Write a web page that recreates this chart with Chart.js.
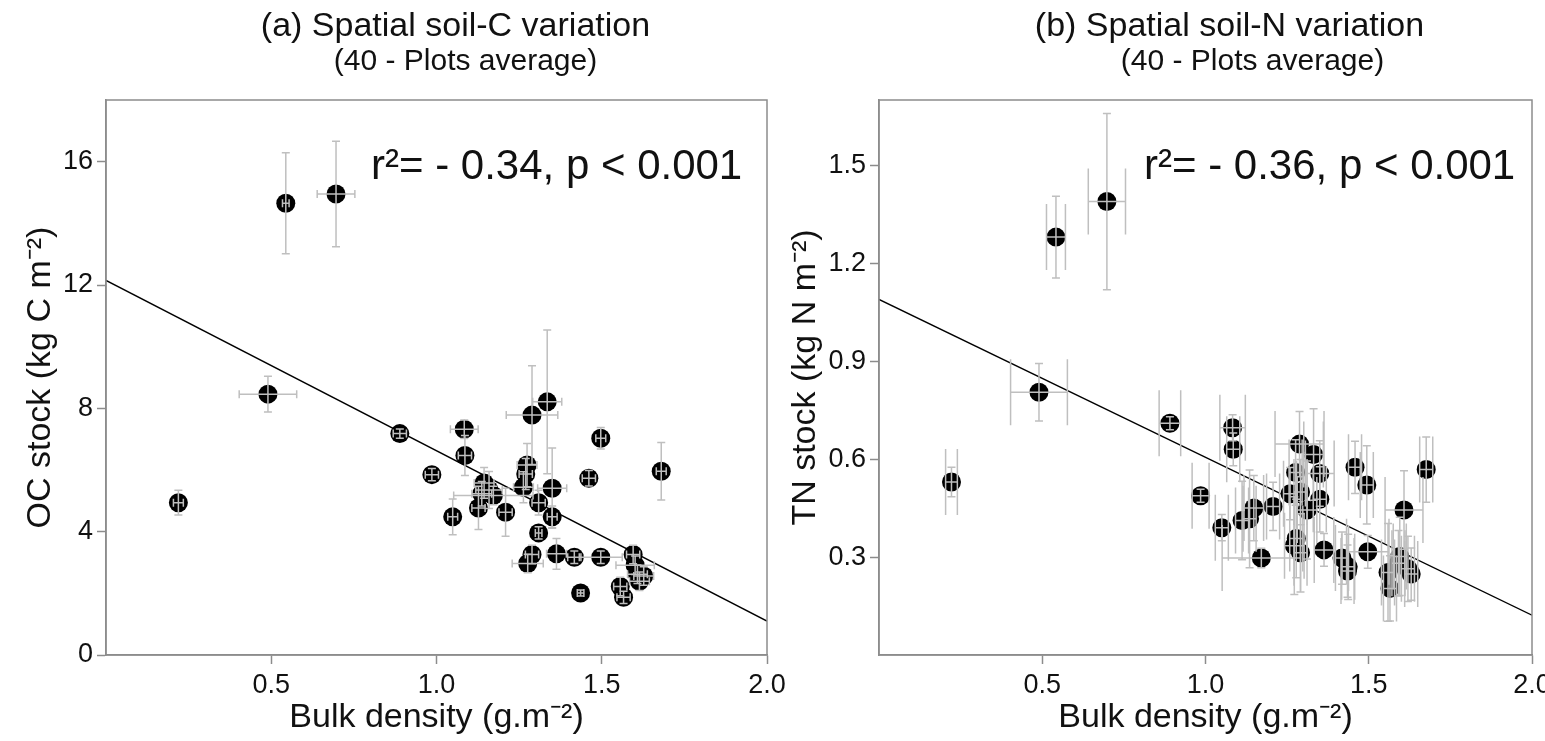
<!DOCTYPE html>
<html lang="en">
<head>
<meta charset="UTF-8">
<title>Spatial soil-C and soil-N variation</title>
<script src="https://cdn.jsdelivr.net/npm/chart.js"></script>
<style>
    body { margin: 0; background: #fff; overflow: hidden; }
    .panel { position: absolute; top: 0; }
    #panelA { left: 0; }
    #panelB { left: 772px; }
</style>
</head>
<body>
<div class="panel" id="panelA"><canvas id="ocChart" width="800" height="741"></canvas></div>
<div class="panel" id="panelB"><canvas id="tnChart" width="800" height="741"></canvas></div>
<script>
// (a) organic carbon stock vs bulk density, 40 plot averages (+/- error)
const ocDensity    = [0.544, 0.696, 0.490, 0.219, 0.889, 1.084, 1.086, 0.986, 1.049, 1.127,
                      1.144, 1.159, 1.172, 1.209, 1.263, 1.274, 1.289, 1.335, 1.350, 1.309,
                      1.350, 1.497, 1.461, 1.680, 1.309, 1.289, 1.276, 1.363, 1.417, 1.497,
                      1.595, 1.601, 1.608, 1.627, 1.436, 1.556, 1.566, 1.614, 1.137, 1.270];
const ocDensityErr = [0.010, 0.057, 0.087, 0.015, 0.020, 0.042, 0.020, 0.020, 0.015, 0.020,
                      0.030, 0.040, 0.120, 0.020, 0.030, 0.030, 0.078, 0.044, 0.044, 0.020,
                      0.015, 0.015, 0.020, 0.015, 0.010, 0.020, 0.047, 0.030, 0.020, 0.065,
                      0.020, 0.058, 0.030, 0.030, 0.010, 0.020, 0.020, 0.030, 0.030, 0.020];
const ocStock      = [14.65, 14.95, 8.46, 4.94, 7.18, 7.32, 6.47, 5.85, 4.48, 4.77,
                      5.58, 5.35, 5.17, 4.63, 5.44, 6.16, 7.78, 8.21, 5.41, 4.94,
                      4.48, 7.03, 5.73, 5.96, 3.96, 3.26, 2.97, 3.28, 3.17, 3.17,
                      3.26, 2.91, 2.62, 2.56, 2.01, 2.22, 1.87, 2.39, 5.23, 5.87];
const ocStockErr   = [1.64, 1.71, 0.58, 0.40, 0.15, 0.30, 0.65, 0.20, 0.58, 0.70,
                      0.50, 0.60, 0.30, 0.78, 0.50, 0.70, 1.60, 2.33, 1.30, 0.40,
                      0.35, 0.35, 0.25, 0.93, 0.20, 0.30, 0.30, 0.50, 0.20, 0.20,
                      0.30, 0.30, 0.30, 0.30, 0.10, 0.30, 0.20, 0.30, 0.40, 0.50];
const ocFitX = [0, 2.0];
const ocFitY = [12.15, 1.1];

// (b) total nitrogen stock vs bulk density
const tnDensity    = [0.542, 0.698, 0.490, 0.222, 0.891, 1.083, 1.085, 0.985, 1.050, 1.135,
                      1.148, 1.207, 1.171, 1.288, 1.331, 1.276, 1.350, 1.259, 1.350, 1.311,
                      1.272, 1.291, 1.363, 1.458, 1.494, 1.676, 1.608, 1.497, 1.418, 1.435,
                      1.595, 1.559, 1.630, 1.565, 1.591, 1.112, 1.278, 1.291, 1.437, 1.620];
const tnDensityErr = [0.029, 0.057, 0.087, 0.018, 0.033, 0.039, 0.020, 0.026, 0.020, 0.020,
                      0.030, 0.020, 0.120, 0.075, 0.030, 0.020, 0.044, 0.020, 0.020, 0.030,
                      0.030, 0.020, 0.030, 0.020, 0.020, 0.020, 0.058, 0.065, 0.020, 0.020,
                      0.020, 0.020, 0.020, 0.020, 0.020, 0.020, 0.020, 0.020, 0.020, 0.020];
const tnStock      = [1.280, 1.389, 0.805, 0.530, 0.710, 0.696, 0.630, 0.488, 0.390, 0.417,
                      0.450, 0.455, 0.297, 0.646, 0.614, 0.559, 0.556, 0.494, 0.477, 0.444,
                      0.335, 0.313, 0.322, 0.575, 0.521, 0.568, 0.444, 0.316, 0.297, 0.257,
                      0.302, 0.253, 0.248, 0.204, 0.281, 0.412, 0.357, 0.499, 0.270, 0.264];
const tnStockErr   = [0.125, 0.270, 0.088, 0.045, 0.020, 0.040, 0.050, 0.020, 0.040, 0.150,
                      0.100, 0.074, 0.030, 0.100, 0.140, 0.100, 0.100, 0.080, 0.100, 0.150,
                      0.150, 0.120, 0.050, 0.080, 0.120, 0.100, 0.120, 0.050, 0.080, 0.080,
                      0.120, 0.150, 0.080, 0.100, 0.100, 0.120, 0.120, 0.100, 0.100, 0.100];
const tnFitX = [0, 2.0];
const tnFitY = [1.089, 0.122];

// tick labels
const densityTicks = [0.5, 1.0, 1.5, 2.0];
const ocTicks = [0, 4, 8, 12, 16];
const tnTicks = [0.3, 0.6, 0.9, 1.2, 1.5];

const FONT = "'Liberation Sans', Arial, sans-serif";
const AXIS_GREY = '#8c8c8c';

// frame, error bars, titles and the r2 note
const panelDecor = {
    id: 'panelDecor',
    afterDatasetsDraw(chart, args, o) {
        const { ctx, chartArea: a, scales: { x, y } } = chart;
        ctx.save();
        ctx.strokeStyle = '#bfbfbf';
        ctx.lineWidth = 1.5;
        chart.data.datasets[0].data.forEach(p => {
            const px = x.getPixelForValue(p.x), py = y.getPixelForValue(p.y);
            const y1 = y.getPixelForValue(p.y + p.ye), y2 = y.getPixelForValue(p.y - p.ye);
            const x1 = x.getPixelForValue(p.x - p.xe), x2 = x.getPixelForValue(p.x + p.xe);
            ctx.beginPath();
            ctx.moveTo(px, y1); ctx.lineTo(px, y2);
            ctx.moveTo(px - o.capY, y1); ctx.lineTo(px + o.capY, y1);
            ctx.moveTo(px - o.capY, y2); ctx.lineTo(px + o.capY, y2);
            ctx.moveTo(x1, py); ctx.lineTo(x2, py);
            ctx.moveTo(x1, py - o.capX); ctx.lineTo(x1, py + o.capX);
            ctx.moveTo(x2, py - o.capX); ctx.lineTo(x2, py + o.capX);
            ctx.stroke();
        });
        ctx.strokeStyle = AXIS_GREY;
        ctx.strokeRect(a.left, a.top, a.right - a.left, a.bottom - a.top);

        ctx.fillStyle = '#111';
        ctx.textBaseline = 'alphabetic';
        ctx.textAlign = 'center';
        const cx = (a.left + a.right) / 2;
        ctx.font = '34px ' + FONT;
        ctx.fillText(o.title, cx + o.titleShift, 36);
        ctx.font = '30px ' + FONT;
        ctx.fillText(o.subtitle, cx + o.subShift, 70);
        ctx.textAlign = 'left';
        ctx.font = '42px ' + FONT;
        ctx.fillText(o.note, a.left + 265, a.top + 79);
        ctx.restore();
    }
};

function makeChart(id, p) {
    const points = p.xs.map((v, i) => ({ x: v, y: p.ys[i], xe: p.xErr[i], ye: p.yErr[i] }));
    const fit = p.fitX.map((v, i) => ({ x: v, y: p.fitY[i] }));
    return new Chart(document.getElementById(id), {
        type: 'scatter',
        data: {
            datasets: [
                { data: points, backgroundColor: '#000', borderWidth: 0, pointRadius: 9.5 },
                { data: fit, showLine: true, borderColor: '#000', borderWidth: 1.4, pointRadius: 0 }
            ]
        },
        options: {
            responsive: false,
            animation: false,
            devicePixelRatio: 1,
            layout: { padding: { top: 100, right: p.padRight, left: 0, bottom: 0 } },
            plugins: {
                legend: { display: false },
                tooltip: { enabled: false },
                panelDecor: p.decor
            },
            scales: {
                x: {
                    type: 'linear', min: 0, max: 2,
                    afterBuildTicks: ax => { ax.ticks = densityTicks.map(v => ({ value: v })); },
                    afterFit: s => { s.height = 86; },
                    grid: { drawOnChartArea: false, color: AXIS_GREY, tickLength: 9, tickWidth: 1.5 },
                    border: { color: AXIS_GREY, width: 1.5 },
                    ticks: { color: '#111', font: { family: FONT, size: 27 }, padding: 5,
                             maxRotation: 0, autoSkip: false, callback: v => v.toFixed(1) },
                    title: { display: true, text: 'Bulk density (g.m⁻²)', color: '#111',
                             font: { family: FONT, size: 34 }, padding: { top: 0, bottom: 3 } }
                },
                y: {
                    type: 'linear', min: 0, max: p.yMax,
                    afterBuildTicks: ax => { ax.ticks = p.yTicks.map(v => ({ value: v })); },
                    afterFit: s => { s.width = p.yWidth; },
                    grid: { drawOnChartArea: false, color: AXIS_GREY, tickLength: 9, tickWidth: 1.5 },
                    border: { color: AXIS_GREY, width: 1.5 },
                    ticks: { color: '#111', font: { family: FONT, size: 27 }, padding: 4,
                             autoSkip: false, callback: p.yLabel },
                    title: { display: true, text: p.yTitle, color: '#111',
                             font: { family: FONT, size: 34 }, padding: { top: p.yTitlePad, bottom: 0 } }
                }
            }
        },
        plugins: [panelDecor]
    });
}

makeChart('ocChart', {
    xs: ocDensity, xErr: ocDensityErr, ys: ocStock, yErr: ocStockErr,
    fitX: ocFitX, fitY: ocFitY,
    yMax: 18, yTicks: ocTicks, yLabel: v => String(v),
    yTitle: 'OC stock (kg C m⁻²)', yWidth: 106, yTitlePad: 20, padRight: 33,
    decor: { title: '(a) Spatial soil-C variation', subtitle: '(40 - Plots average)',
             note: 'r²= - 0.34, p < 0.001', titleShift: 19, subShift: 29, capX: 4, capY: 4 }
});

makeChart('tnChart', {
    xs: tnDensity, xErr: tnDensityErr, ys: tnStock, yErr: tnStockErr,
    fitX: tnFitX, fitY: tnFitY,
    yMax: 1.7, yTicks: tnTicks, yLabel: v => v.toFixed(1),
    yTitle: 'TN stock (kg N m⁻²)', yWidth: 107, yTitlePad: 13, padRight: 40,
    decor: { title: '(b) Spatial soil-N variation', subtitle: '(40 - Plots average)',
             note: 'r²= - 0.36, p < 0.001', titleShift: 24, subShift: 47, capX: 33, capY: 4 }
});
</script>
</body>
</html>
